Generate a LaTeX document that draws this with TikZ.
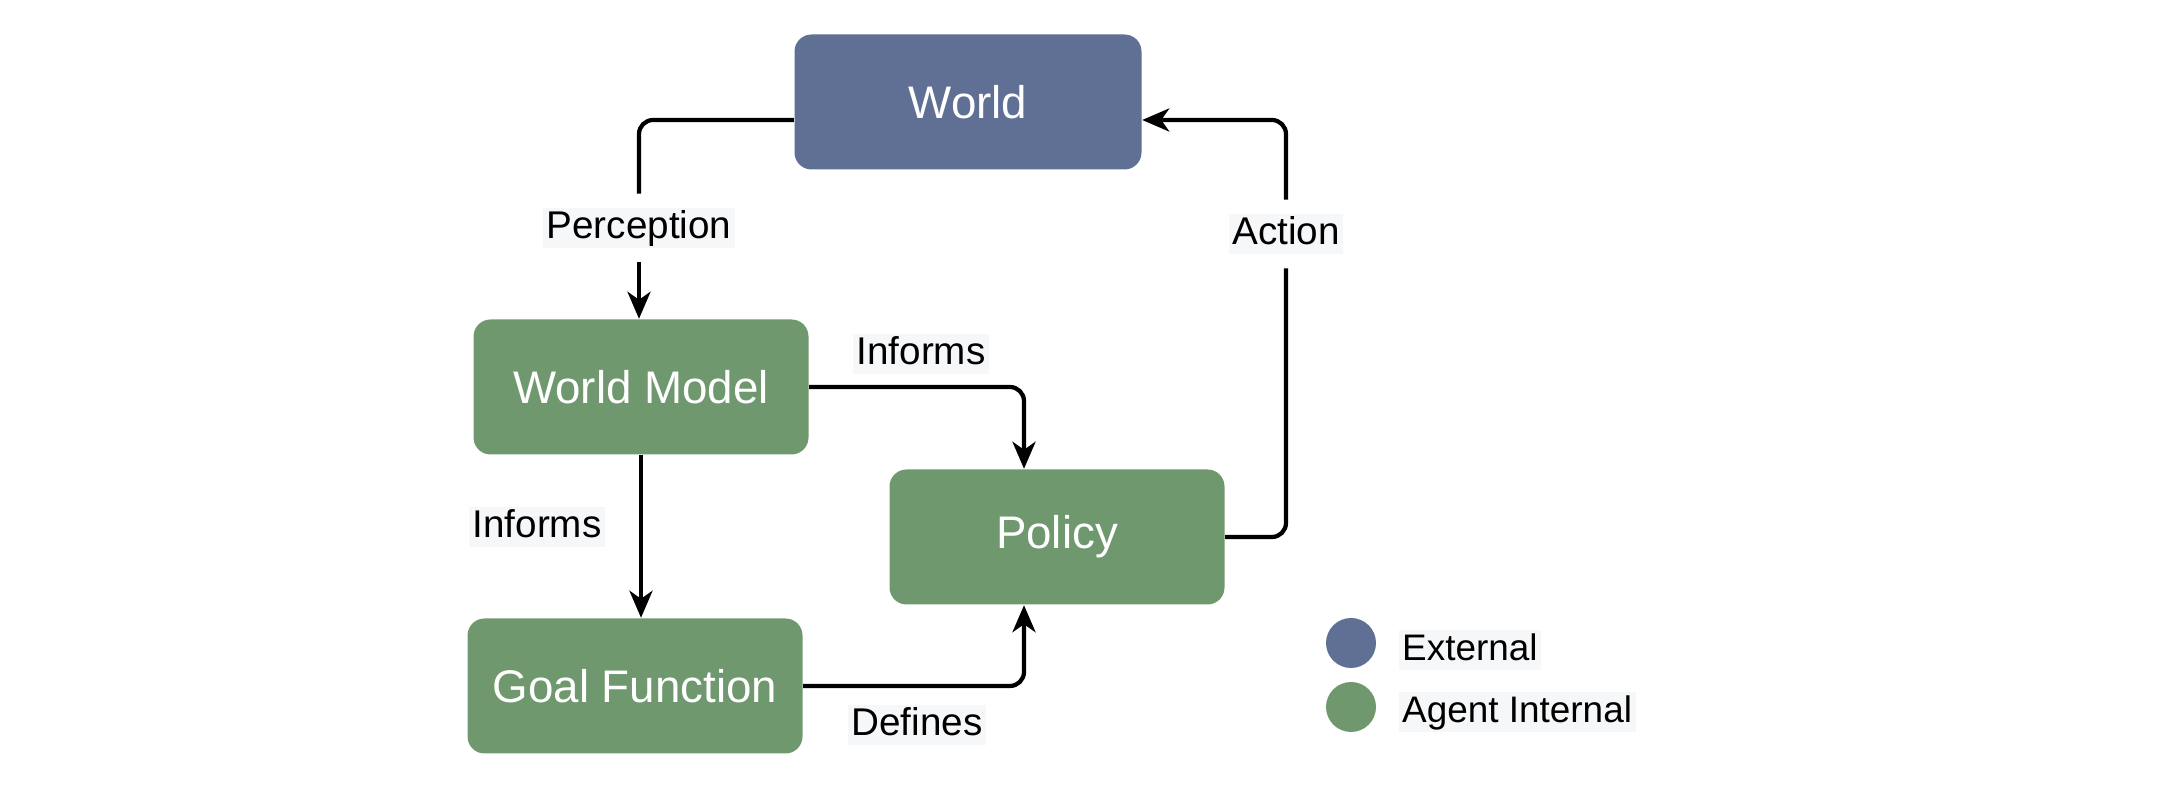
\documentclass[tikz,border=0pt]{standalone}
\usepackage{fontspec}
\setmainfont{Liberation Sans}
\usetikzlibrary{arrows.meta, calc}

\definecolor{worldblue}{RGB}{95,112,148}
\definecolor{agentgreen}{RGB}{111,152,110}
\definecolor{labelbg}{RGB}{246,247,249}

\begin{document}
\begin{tikzpicture}[
        box/.style = {rounded corners = 1.7mm, minimum width = 3.35cm, minimum height = 1.35cm, text = white, font = \fontsize{13}{15}\selectfont},
        elabel/.style = {fill = labelbg, inner xsep = 1pt, inner ysep = 0.5pt, text height = 8.2pt, text depth = 2.4pt, font = \fontsize{11}{13}\selectfont},
        wire/.style = {line width = 1.2pt, rounded corners = 4pt},
        flow/.style = {wire, -{Stealth[length = 2.7mm, width = 2.3mm, inset = 0.8mm]}},
        dot/.style = {circle, minimum size = 0.5cm, inner sep = 0pt}
    ]

        \useasboundingbox (0, 0) rectangle (21.77, 7.94);

        % Boxes
        \node (World) [box, fill = worldblue, minimum width = 3.47cm] at (9.68, 6.92) {World};
        \node (WM) [box, fill = agentgreen] at (6.41, 4.07) {World Model};
        \node (GF) [box, fill = agentgreen] at (6.35, 1.08) {Goal Function};
        \node (Policy) [box, fill = agentgreen] at (10.57, 2.57) {Policy};

        % Labels
        \node (Perc) [elabel, outer ysep = 4pt] at (6.39, 5.66) {Perception};
        \node (Act) [elabel, outer ysep = 4pt] at (12.86, 5.60) {Action};
        \node (InfTop) [elabel] at (9.21, 4.40) {Informs};
        \node (InfLeft) [elabel] at (5.37, 2.67) {Informs};
        \node (Def) [elabel] at (9.17, 0.69) {Defines};

        % Perception
        \draw [wire] ($(World.west) + (0, -0.18)$) -| (Perc.north);
        \draw [flow] (Perc.south) -- (Perc.south |- WM.north);

        % Action
        \draw [wire] (Policy.east) -| (Act.south);
        \draw [flow] (Act.north) |- ($(World.east) + (0, -0.18)$);

        %% Informs
        \draw [flow] (WM.east) -| ($(Policy.north) + (-0.33, 0)$);
        \draw [flow] (WM.south) -- (WM.south |- GF.north);

        %% Defines
        \draw [flow] (GF.east) -| ($(Policy.south) + (-0.33, 0)$);

        % Legend
        \node (ExtDot) [dot, fill = worldblue] at (13.51, 1.51) {};
        \node (IntDot) [dot, fill = agentgreen] at (13.51, 0.87) {};
        \node (ExtText) [elabel, anchor = west, font = \fontsize{10.5}{12}\selectfont] at (13.98, 1.44) {External};
        \node (IntText) [elabel, anchor = west, font = \fontsize{10.5}{12}\selectfont] at (13.98, 0.82) {Agent Internal};

    \end{tikzpicture}
\end{document}
